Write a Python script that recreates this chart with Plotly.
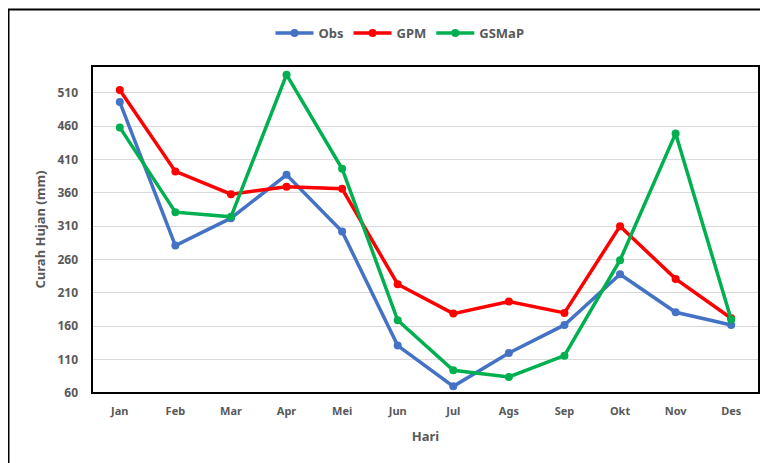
import plotly.graph_objects as go

months = ["Jan", "Feb", "Mar", "Apr", "Mei", "Jun", "Jul", "Ags", "Sep", "Okt", "Nov", "Des"]
obs = [496, 281, 322, 387, 302, 131, 70, 120, 162, 238, 181, 162]
gpm = [514, 392, 358, 369, 366, 223, 179, 197, 180, 310, 231, 172]
gsmap = [458, 331, 324, 537, 396, 169, 94, 84, 116, 259, 449, 170]
y_ticks = [60, 110, 160, 210, 260, 310, 360, 410, 460, 510]

# page is offset by the 8px body margin; effective width 760
W, H = 760, 463
L, R, T, B = 84, 9, 58, 78
pw, ph = W - L - R, H - T - B

fig = go.Figure()
for name, vals, col in [("Obs", obs, "#4472C4"), ("GPM", gpm, "#FF0000"), ("GSMaP", gsmap, "#00B050")]:
    fig.add_trace(go.Scatter(x=months, y=vals, name=name, mode="lines+markers",
                             line=dict(color=col, width=3.5),
                             marker=dict(color=col, size=8)))

font_c = "#595959"
fig.update_layout(
    width=W, height=H,
    margin=dict(l=L, r=R, t=T, b=B, autoexpand=False),
    paper_bgcolor="white", plot_bgcolor="white",
    font=dict(family="Noto Sans", size=12, color=font_c),
    legend=dict(orientation="h", x=(400 - 8 - L) / pw, y=1.0 + (58 - 25) / ph, xanchor="center", yanchor="middle",
                font=dict(size=13, color=font_c, family="Noto Sans", weight="bold"),
                itemwidth=38, tracegroupgap=0),
    xaxis=dict(range=[-0.5, 11.5], showgrid=False, showline=False, ticks="", ticklabelstandoff=10,
               tickfont=dict(size=11, color=font_c, weight="bold"),
               title=dict(text="Hari", font=dict(size=13, color=font_c, weight="bold"), standoff=14)),
    yaxis=dict(range=[60, 550], tickvals=y_ticks, showgrid=True, gridcolor="#d9d9d9", gridwidth=1,
               zeroline=False, showline=False, ticks="", ticklabelstandoff=13,
               tickfont=dict(size=12, color=font_c, weight="bold"),
               title=dict(text="Curah Hujan (mm)", font=dict(size=13, color=font_c, weight="bold"), standoff=8)),
)

# plot area border
fig.add_shape(type="rect", xref="paper", yref="paper", x0=0, y0=0, x1=1, y1=1,
              line=dict(color="black", width=2), layer="above")
# outer chart border
fig.add_shape(type="rect", xref="paper", yref="paper",
              x0=(0.5 - L) / pw, y0=-(B + 20) / ph,
              x1=(W + 20 - L) / pw, y1=1 + (T - 1.5) / ph,
              line=dict(color="black", width=2), layer="above")

fig.write_html("out.html")
